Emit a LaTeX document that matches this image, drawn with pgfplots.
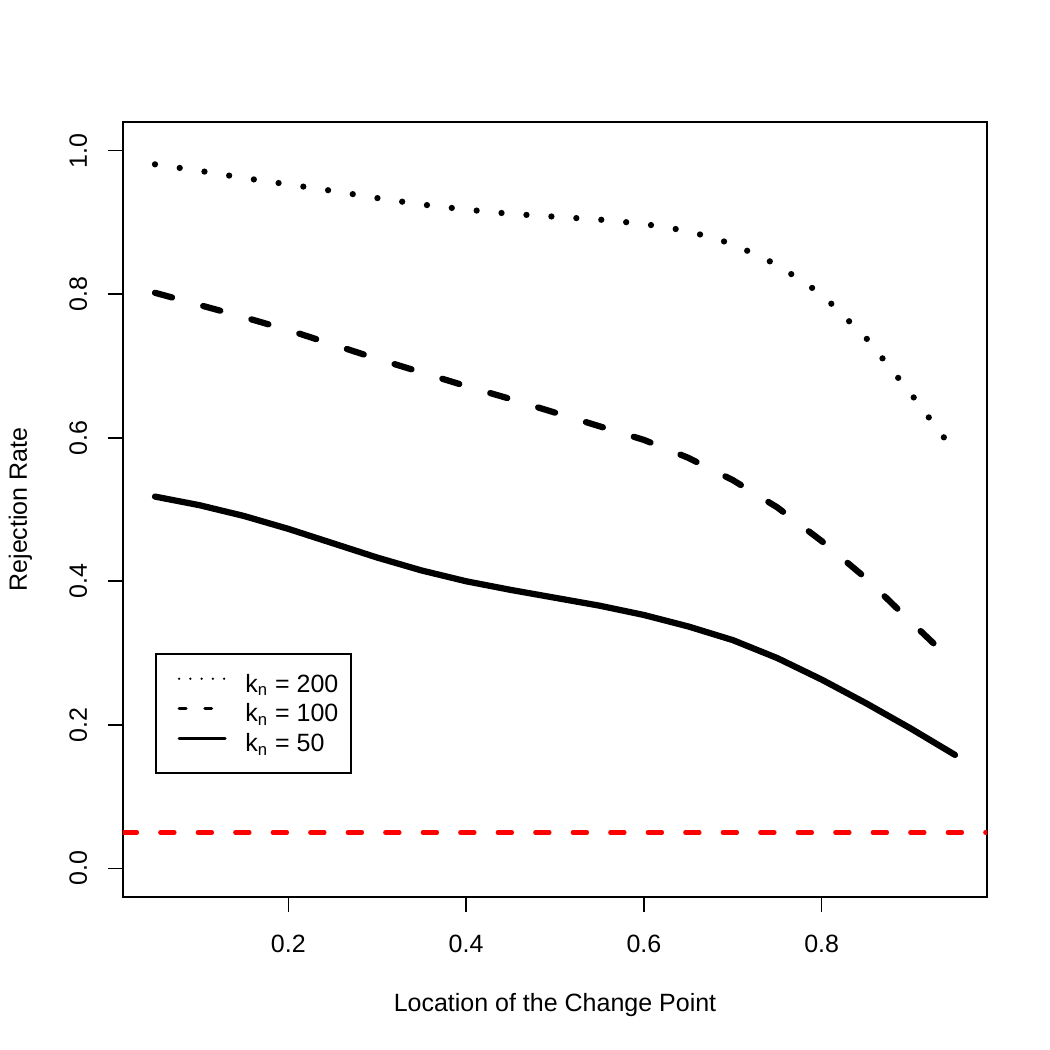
\documentclass[border=0pt]{standalone}
\usepackage{fontspec}
\setmainfont{Liberation Sans}
\usepackage{pgfplots}
\usepackage{pgfplotstable}
\pgfplotsset{compat=1.18}

% Rejection rate against change-point location, one table per k_n
\pgfplotstableread{
x     y
0.05  0.981
0.10  0.972
0.15  0.962
0.20  0.953
0.25  0.944
0.30  0.934
0.35  0.925
0.40  0.918
0.45  0.912
0.50  0.908
0.55  0.904
0.60  0.898
0.65  0.888
0.70  0.870
0.75  0.841
0.80  0.800
0.85  0.739
0.90  0.662
0.95  0.580
}\kTwoHundred

\pgfplotstableread{
x     y
0.05  0.802
0.10  0.785
0.15  0.768
0.20  0.750
0.25  0.730
0.30  0.710
0.35  0.691
0.40  0.672
0.45  0.654
0.50  0.635
0.55  0.616
0.60  0.597
0.65  0.572
0.70  0.541
0.75  0.503
0.80  0.456
0.85  0.404
0.90  0.344
0.95  0.285
}\kOneHundred

\pgfplotstableread{
x     y
0.05  0.518
0.10  0.506
0.15  0.491
0.20  0.473
0.25  0.453
0.30  0.433
0.35  0.415
0.40  0.400
0.45  0.388
0.50  0.377
0.55  0.366
0.60  0.353
0.65  0.337
0.70  0.318
0.75  0.293
0.80  0.263
0.85  0.230
0.90  0.195
0.95  0.158
}\kFifty

\begin{document}
\begin{tikzpicture}
\path[use as bounding box] (-59.04pt,-73.44pt) rectangle (444.96pt,430.56pt);
\begin{axis}[
  at={(0pt,0pt)}, anchor=south west,
  scale only axis,
  width=414.72pt, height=372pt,
  xmin=0.014, xmax=0.986,
  ymin=-0.04, ymax=1.04,
  font=\fontsize{12}{14.4}\selectfont,
  axis line style={black, line width=0.75pt},
  tick align=outside,
  tick pos=left,
  major tick length=7.2pt,
  tick style={black, line width=0.75pt},
  xtick={0.2,0.4,0.6,0.8},
  ytick={0,0.2,0.4,0.6,0.8,1.0},
  /pgf/number format/.cd, fixed, fixed zerofill, precision=1, assume math mode=true,
  /pgfplots/.cd,
  xticklabel style={anchor=base, inner sep=0pt, yshift=-19.2pt},
  yticklabel shift=10.1pt,
  yticklabel style={rotate=90, anchor=base, inner sep=0pt},
  xlabel={Location of the Change Point},
  ylabel={Rejection Rate},
  xlabel style={at={(axis description cs:0.5,-0.1471)}, anchor=base, inner sep=0pt},
  ylabel style={at={(axis description cs:-0.1112,0.5)}, anchor=base, inner sep=0pt},
  legend cell align=left,
  legend image code/.code={\path (0pt,0pt); \draw[#1] (4.5pt,2.4pt) -- (26.5pt,2.4pt);},
  legend style={
    at={(axis description cs:0.0370,0.3148)}, anchor=north west,
    draw=black, line width=0.75pt, fill=white,
    font=\fontsize{12}{14.4}\selectfont,
    inner xsep=6pt, inner ysep=7.2pt,
    row sep=0pt,
    nodes={inner sep=0pt, text height=11.2pt, text depth=3.1pt},
    /tikz/every odd column/.append style={column sep=9pt},
  },
]
\addplot[black, line width=3pt, line cap=round, dash pattern=on 0pt off 12pt,
  legend image post style={line width=1.2pt, dash pattern=on 0pt off 5.4pt}]
  table[x=x, y=y] {\kTwoHundred};
\addlegendentry{k\textsubscript{n} = 200}
\addplot[black, line width=3pt, line cap=round, dash pattern=on 8.5pt off 15.5pt,
  legend image post style={line width=1.5pt, dash pattern=on 3.3pt off 9pt}]
  table[x=x, y=y] {\kOneHundred};
\addlegendentry{k\textsubscript{n} = 100}
\addplot[black, line width=3pt, line cap=round,
  legend image post style={line width=1.5pt}]
  table[x=x, y=y] {\kFifty};
\addlegendentry{k\textsubscript{n} = 50}
% nominal level 0.05
\addplot[red, line width=2.25pt, line cap=round, dash pattern=on 6.6pt off 11.4pt, forget plot]
  coordinates {(0.014,0.05) (0.986,0.05)};
\end{axis}
\end{tikzpicture}
\end{document}
